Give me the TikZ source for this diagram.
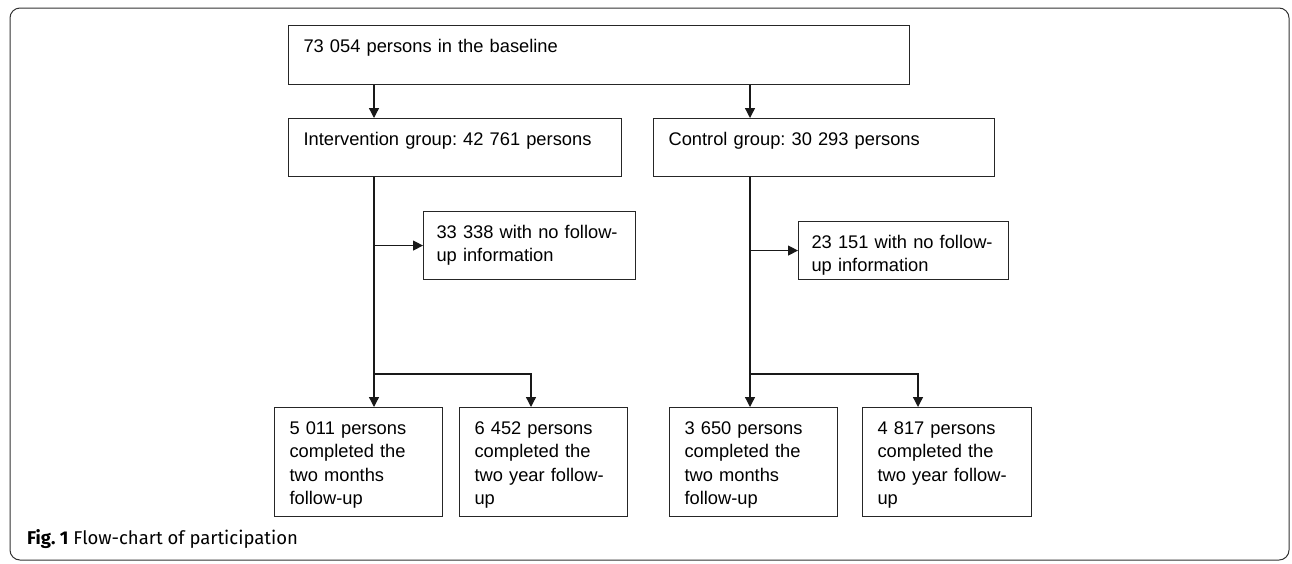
\documentclass[tikz,border=0pt]{standalone}
\usepackage{fontspec}
\setmainfont{Liberation Sans}
\newfontfamily\capfont{Fira Sans}
\frenchspacing
\usetikzlibrary{arrows.meta}

\begin{document}
\begin{tikzpicture}[
    x=1pt, y=-1pt,
    flowbox/.style={draw=black!85, line width=1.1pt, anchor=north west, inner xsep=15pt, inner ysep=0pt, align=left, text height=27pt, font=\fontsize{18.3}{23.3}\selectfont},
    arr/.style={-{Triangle[width=10pt, length=10pt]}, line width=1.3pt, draw=black!90},
    frame/.style={draw=black!80, line width=1pt, rounded corners=10pt}
]

\useasboundingbox (0,0) rectangle (1292,563);
\draw[frame] (10,8) rectangle (1289,560);

\node[flowbox, text width=591pt, text depth=32pt] (base) at (288,25) {73 054 persons in the baseline};

\node[flowbox, text width=303pt, text depth=31pt] (interv) at (288,118) {Intervention group: 42 761 persons};
\node[flowbox, text width=311pt, text depth=31pt] (control) at (653,118) {Control group: 30 293 persons};

\node[flowbox, inner xsep=13pt, text width=186pt, text depth=41pt] (nofuI) at (423,211) {33 338 with no follow-\\up information};
\node[flowbox, inner xsep=13pt, text width=184pt, text depth=31pt] (nofuC) at (798,221) {23 151 with no follow-\\up information};

\node[flowbox, text width=138pt, text depth=82pt] (monthI) at (274,407) {5 011 persons\\completed the\\two months\\follow-up};
\node[flowbox, text width=138pt, text depth=82pt] (yearI) at (459,407) {6 452 persons\\completed the\\two year follow-\\up};
\node[flowbox, text width=138pt, text depth=82pt] (monthC) at (669,407) {3 650 persons\\completed the\\two months\\follow-up};
\node[flowbox, text width=139pt, text depth=82pt] (yearC) at (862,407) {4 817 persons\\completed the\\two year follow-\\up};

\node[anchor=base west, inner sep=0pt, font=\capfont\fontsize{18.5}{20}\selectfont] (caption) at (27,544) {\textbf{Fig. 1} Flow-chart of participation};

\coordinate (xI) at (374,0);
\coordinate (xC) at (750,0);
\coordinate (xIy) at (531,0);
\coordinate (xCy) at (918,0);
\coordinate (split) at (0,374);

\draw (base.south -| xI) edge[arr] (interv.north -| xI);
\draw (base.south -| xC) edge[arr] (control.north -| xC);

\draw (interv.south -| xI) edge[arr] (monthI.north -| xI);
\draw (control.south -| xC) edge[arr] (monthC.north -| xC);

\draw (nofuI.west -| xI) edge[arr] (nofuI.west);
\draw (nofuC.west -| xC) edge[arr] (nofuC.west);

\draw[arr] (xI |- split) -| (yearI.north -| xIy);
\draw[arr] (xC |- split) -| (yearC.north -| xCy);

\end{tikzpicture}
\end{document}
